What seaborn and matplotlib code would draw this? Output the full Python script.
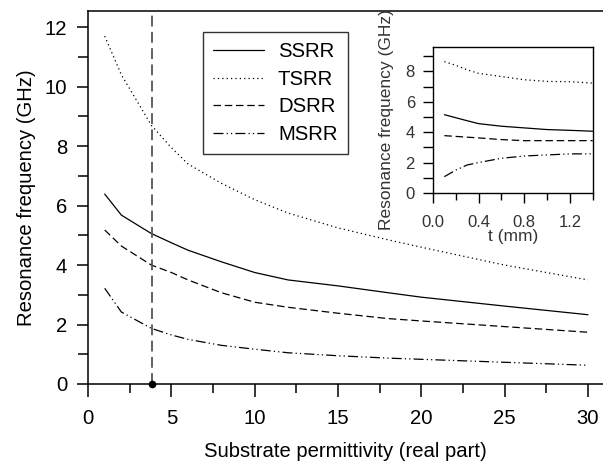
"""
Resonance frequency of the SRR variants vs substrate permittivity,
with an inset for the dependence on substrate thickness t.
"""

import pandas as pd
import matplotlib.pyplot as plt
import seaborn as sns
from matplotlib.ticker import MultipleLocator

# Main plot data
series_names = ["SSRR", "TSRR", "DSRR", "MSRR"]
permittivity = [1, 2, 3.8, 5, 6, 8, 10, 12, 15, 18, 20, 25, 30]
ssrr_freq = [6.39, 5.68, 5.06, 4.75, 4.50, 4.11, 3.75, 3.50, 3.30, 3.07, 2.92, 2.62, 2.33]
tsrr_freq = [11.7, 10.4, 8.70, 7.95, 7.40, 6.75, 6.20, 5.75, 5.25, 4.85, 4.60, 4.00, 3.50]
dsrr_freq = [5.18, 4.64, 4.00, 3.75, 3.50, 3.07, 2.75, 2.58, 2.38, 2.20, 2.12, 1.93, 1.74]
msrr_freq = [3.22, 2.42, 1.87, 1.65, 1.50, 1.30, 1.17, 1.05, 0.95, 0.87, 0.83, 0.73, 0.63]

# Inset data: frequency vs thickness t (mm)
thickness = [0.1, 0.2, 0.3, 0.4, 0.6, 0.8, 1.0, 1.2, 1.4]
ssrr_t = [5.15, 4.95, 4.75, 4.56, 4.39, 4.28, 4.17, 4.12, 4.06]
tsrr_t = [8.64, 8.40, 8.10, 7.87, 7.66, 7.45, 7.34, 7.32, 7.23]
dsrr_t = [3.77, 3.72, 3.67, 3.62, 3.51, 3.44, 3.44, 3.44, 3.44]
msrr_t = [1.07, 1.50, 1.84, 2.00, 2.28, 2.43, 2.50, 2.57, 2.57]

# marked permittivity (vertical dashed line)
eps_mark = 3.84


def long_form(x, cols, xname):
    frames = []
    for name, vals in zip(series_names, cols):
        frames.append(pd.DataFrame({xname: x, "Freq": vals, "Series": name}))
    return pd.concat(frames, ignore_index=True)


df_main = long_form(permittivity, [ssrr_freq, tsrr_freq, dsrr_freq, msrr_freq], "Eps")
df_inset = long_form(thickness, [ssrr_t, tsrr_t, dsrr_t, msrr_t], "t")

sns.set_style("ticks")
plt.rcParams["font.family"] = ["Liberation Sans", "DejaVu Sans"]
plt.rcParams["text.color"] = "black"
plt.rcParams["axes.labelcolor"] = "black"
plt.rcParams["xtick.color"] = "black"
plt.rcParams["ytick.color"] = "black"

palette = {n: "black" for n in series_names}
dashes = {"SSRR": "", "TSRR": (1, 2.5), "DSRR": (6, 3), "MSRR": (8, 2.5, 1, 2.5, 1, 2.5)}

FS = 14.6

fig = plt.figure(figsize=(6.03, 4.66), dpi=100)
ax = fig.add_axes([0.146, 0.176, 0.854, 0.800])

sns.lineplot(
    data=df_main, x="Eps", y="Freq", hue="Series", style="Series",
    hue_order=series_names, style_order=series_names,
    palette=palette, dashes=dashes, linewidth=0.9, ax=ax,
)

ax.axvline(eps_mark, color="#555555", linewidth=1.3, dashes=(6, 3))
ax.plot([eps_mark], [0], "o", color="black", markersize=4.5, clip_on=False, zorder=5)

ax.set_xlim(0, 30.9)
ax.set_ylim(0, 12.54)
ax.xaxis.set_major_locator(MultipleLocator(5))
ax.xaxis.set_minor_locator(MultipleLocator(2.5))
ax.yaxis.set_major_locator(MultipleLocator(2))
ax.yaxis.set_minor_locator(MultipleLocator(1))
ax.tick_params(axis="x", which="major", length=9, width=1.1, pad=9, labelsize=FS)
ax.tick_params(axis="x", which="minor", length=6.5, width=1.1)
ax.tick_params(axis="y", which="major", length=8, width=1.1, pad=7, labelsize=FS)
ax.tick_params(axis="y", which="minor", length=7, width=1.1)
ax.set_xlabel("Substrate permittivity (real part)", fontsize=FS, labelpad=10)
ax.set_ylabel("Resonance frequency (GHz)", fontsize=FS, labelpad=6)
for side in ["left", "bottom", "top"]:
    ax.spines[side].set_linewidth(1.1)
    ax.spines[side].set_color("black")
ax.spines["right"].set_visible(False)

handles, labels = ax.get_legend_handles_labels()
leg = ax.legend(
    handles, labels, loc="upper left", bbox_to_anchor=(0.223, 0.944),
    borderaxespad=0, fontsize=FS, frameon=True, fancybox=False,
    edgecolor="black", handlelength=2.5, handletextpad=0.7,
    borderpad=0.5, labelspacing=0.42,
)
leg.get_frame().set_linewidth(1.0)

# Inset: thickness dependence
axi = fig.add_axes([0.718, 0.586, 0.265, 0.313])
sns.lineplot(
    data=df_inset, x="t", y="Freq", hue="Series", style="Series",
    hue_order=series_names, style_order=series_names,
    palette=palette, dashes=dashes, linewidth=0.9, legend=False, ax=axi,
)
axi.set_xlim(0, 1.4)
axi.set_ylim(0, 9.6)
axi.xaxis.set_major_locator(MultipleLocator(0.4))
axi.xaxis.set_minor_locator(MultipleLocator(0.2))
axi.yaxis.set_major_locator(MultipleLocator(2))
axi.yaxis.set_minor_locator(MultipleLocator(1))
axi.xaxis.set_major_formatter("{x:.1f}")
axi.tick_params(axis="x", which="major", length=7, width=1, pad=9, labelsize=12, labelcolor="#333333")
axi.tick_params(axis="x", which="minor", length=5, width=1)
axi.tick_params(axis="y", which="major", length=7, width=1, pad=6, labelsize=12, labelcolor="#333333")
axi.tick_params(axis="y", which="minor", length=7, width=1)
axi.set_xlabel("t (mm)", fontsize=12.5, color="#333333", labelpad=-1)
axi.set_ylabel("Resonance frequency (GHz)", fontsize=12.5, color="#333333", labelpad=8)
for side in axi.spines:
    axi.spines[side].set_linewidth(1.0)
    axi.spines[side].set_color("black")

plt.savefig("out.png", dpi=100)
